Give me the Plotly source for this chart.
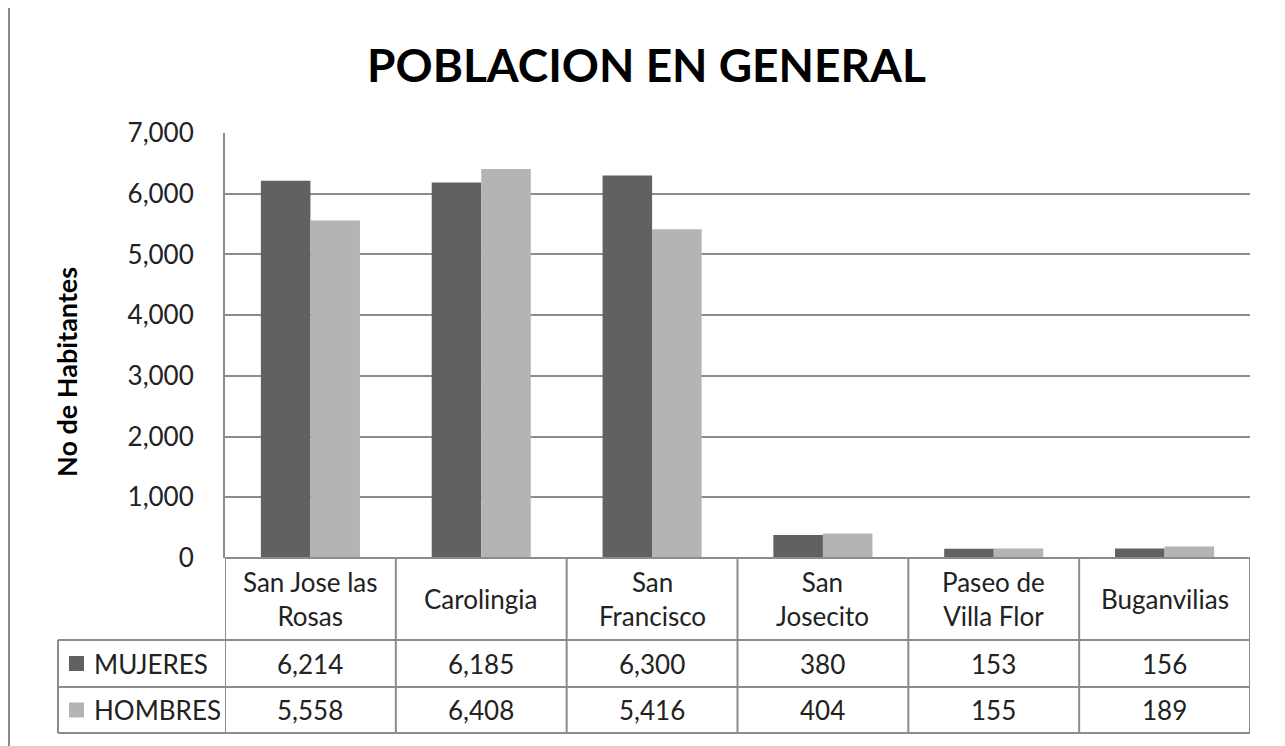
import plotly.graph_objects as go

# ---- data ----
categories = ["San Jose las Rosas", "Carolingia", "San Francisco", "San Josecito",
              "Paseo de Villa Flor", "Buganvilias"]
category_labels = ["San Jose las<br>Rosas", "Carolingia", "San<br>Francisco", "San<br>Josecito",
                   "Paseo de<br>Villa Flor", "Buganvilias"]
series_names = ["MUJERES", "HOMBRES"]
mujeres = [6214, 6185, 6300, 380, 153, 156]
hombres = [5558, 6408, 5416, 404, 155, 189]
y_ticks = [0, 1000, 2000, 3000, 4000, 5000, 6000, 7000]
title_text = "POBLACION EN GENERAL"
y_title = "No de Habitantes"

# ---- style ----
W, H = 1285, 746
OFF = 8  # page body margin
FONT = "Lato"
TXT = "#222222"
DARK = "#616161"
LIGHT = "#b4b4b4"
GRID = "#8c8c8c"
FS = 26

def px(x):
    return (x - OFF) / W

def py(y):
    return 1 - (y - OFF) / H

series_vals = [mujeres, hombres]
colors = [DARK, LIGHT]
xs = list(range(len(categories)))

fig = go.Figure()
for name, vals, col in zip(series_names, series_vals, colors):
    fig.add_trace(go.Bar(x=xs, y=vals, name=name, marker=dict(color=col, line=dict(width=0)),
                         showlegend=False))

plot_left, plot_right, plot_top, plot_bottom = 225, 1250, 133, 558

fig.update_layout(
    width=W, height=H,
    margin=dict(l=0, r=0, t=0, b=0),
    paper_bgcolor="white", plot_bgcolor="white",
    barmode="group", bargap=0.42, bargroupgap=0,
    font=dict(family=FONT, color=TXT),
    xaxis=dict(domain=[px(plot_left), px(plot_right)], range=[-0.5, len(categories) - 0.5],
               showticklabels=False, showgrid=False, zeroline=False, showline=False,
               automargin=False, fixedrange=True),
    yaxis=dict(domain=[py(plot_bottom), py(plot_top)], range=[0, 7000], tickvals=y_ticks,
               tickformat=",d", showgrid=True, gridcolor=GRID, gridwidth=2,
               zeroline=False, showline=True, linecolor=GRID, linewidth=2,
               ticks="", automargin=False,
               tickfont=dict(size=FS, family=FONT, color=TXT), ticklabelstandoff=24),
)

shapes = []
annotations = []
LINE = dict(color=GRID, width=2)

# outer left line
shapes.append(dict(type="line", xref="paper", yref="paper", x0=px(9), x1=px(9), y0=py(8), y1=py(760),
                   line=dict(color="#8a8a8a", width=2)))

# table vertical lines at category boundaries
rows_y = [558, 640, 687, 733]
for i in range(len(categories) + 1):
    shapes.append(dict(type="line", xref="x", yref="paper", x0=i - 0.5, x1=i - 0.5,
                       y0=py(rows_y[0]), y1=py(rows_y[-1]), line=LINE))
# table horizontal lines
shapes.append(dict(type="line", xref="paper", yref="paper", x0=px(plot_left), x1=px(plot_right),
                   y0=py(rows_y[0]), y1=py(rows_y[0]), line=LINE))
for yy in rows_y[1:]:
    shapes.append(dict(type="line", xref="paper", yref="paper", x0=px(58), x1=px(plot_right),
                       y0=py(yy), y1=py(yy), line=LINE))
shapes.append(dict(type="line", xref="paper", yref="paper", x0=px(58), x1=px(58),
                   y0=py(rows_y[1]), y1=py(rows_y[-1]), line=LINE))

# category labels
for i, lab in enumerate(category_labels):
    annotations.append(dict(x=i, y=py((rows_y[0] + rows_y[1]) / 2), xref="x", yref="paper",
                            text=lab, showarrow=False, font=dict(size=FS, family=FONT, color=TXT),
                            xanchor="center", yanchor="middle", align="center"))

# series rows
for r, (name, vals, col) in enumerate(zip(series_names, series_vals, colors)):
    yc = (rows_y[r + 1] + rows_y[r + 2]) / 2
    shapes.append(dict(type="rect", xref="paper", yref="paper", x0=px(69), x1=px(84),
                       y0=py(yc + 7.5), y1=py(yc - 7.5), fillcolor=col, line=dict(width=0)))
    annotations.append(dict(x=px(92), y=py(yc), xref="paper", yref="paper", text=name,
                            showarrow=False, xanchor="left", yanchor="middle",
                            font=dict(size=FS, family=FONT, color=TXT)))
    for i, v in enumerate(vals):
        annotations.append(dict(x=i, y=py(yc), xref="x", yref="paper", text=f"{v:,}",
                                showarrow=False, xanchor="center", yanchor="middle",
                                font=dict(size=FS, family=FONT, color=TXT)))

# title
annotations.append(dict(x=px(646), y=py(64), xref="paper", yref="paper", text=f"<b>{title_text}</b>",
                        showarrow=False, xanchor="center", yanchor="middle",
                        font=dict(size=46, family=FONT, color="#000000")))
# y-axis title
annotations.append(dict(x=px(66), y=py(372), xref="paper", yref="paper", text=f"<b>{y_title}</b>",
                        showarrow=False, xanchor="center", yanchor="middle", textangle=-90,
                        font=dict(size=27, family=FONT, color="#000000")))

fig.update_layout(shapes=shapes, annotations=annotations)
fig.write_html("out.html")
